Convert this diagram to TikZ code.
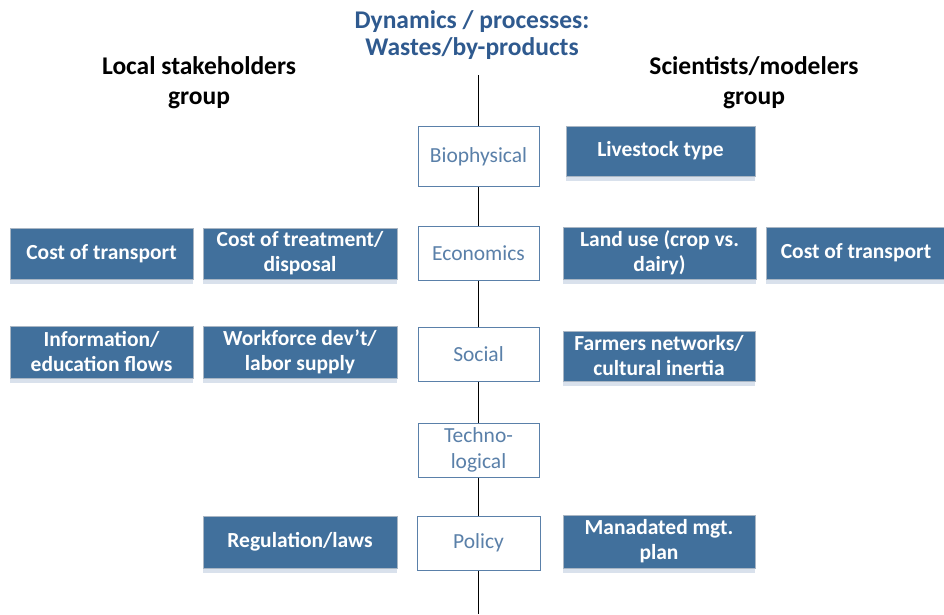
\documentclass[tikz,border=0pt]{standalone}
\usepackage{fontspec}
\setmainfont{Carlito}
\usepackage{tikz}
\usetikzlibrary{positioning, shapes, shadows, calc}
\definecolor{boxblue}{HTML}{41709C}
\definecolor{boxedge}{HTML}{A9B6C4}
\definecolor{shadowblue}{HTML}{D9E1EC}
\definecolor{dimblue}{HTML}{5A80A9}
\definecolor{titleblue}{HTML}{2F5A8F}
\tikzstyle{factor} = [rectangle, draw=boxedge, line width=0.8pt, fill=boxblue, text=white, font=\fontsize{21.5}{25}\selectfont\bfseries, align=center, inner sep=0pt, drop shadow={shadow xshift=0pt, shadow yshift=-5pt, fill=shadowblue, opacity=1}]
\tikzstyle{dimension} = [rectangle, draw=dimblue, line width=1pt, fill=white, text=dimblue, font=\fontsize{21.5}{26}\selectfont, align=center, inner sep=0pt, minimum width=121pt, minimum height=54pt]
\tikzstyle{heading} = [font=\fontsize{25.5}{30}\selectfont\bfseries, align=center]
\tikzstyle{line} = [-, line width=1pt]

\begin{document}
\begin{tikzpicture}[x=1pt, y=-1pt]
        \useasboundingbox (0,0) rectangle (944,614);

        % Headings
        \node[heading, text=titleblue, font=\fontsize{25.5}{27}\selectfont\bfseries] (title) at (472,35.5) {Dynamics / processes:\\Wastes/by-products};
        \node[heading] (local) at (199,82.5) {Local stakeholders\\group};
        \node[heading] (sci) at (754,82.5) {Scientists/modelers\\group};

        % Dimensions along the axis
        \node[dimension, minimum height=60pt] (bio) at (478.5,156.5) {Biophysical};
        \node[dimension] (econ) at (478.5,253) {Economics};
        \node[dimension] (social) at (478.5,354) {Social};
        \node[dimension] (techno) at (478.5,450) {Techno-\\logical};
        \node[dimension, minimum width=123pt] (policy) at (478.5,543) {Policy};

        % Axis
        \coordinate (axis_top) at (478.5,75);
        \coordinate (axis_bottom) at (478.5,614);
        \draw[line] (axis_top) -- (bio.north);
        \draw[line] (bio.south) -- (econ.north);
        \draw[line] (econ.south) -- (social.north);
        \draw[line] (social.south) -- (techno.north);
        \draw[line] (techno.south) -- (policy.north);
        \draw[line] (policy.south) -- (axis_bottom);

        % Local stakeholders side
        \node[factor, minimum width=183pt, minimum height=51pt] (cost_local) at (101.5,253.5) {Cost of transport};
        \node[factor, minimum width=194pt, minimum height=51pt] (treatment) at (300,253.5) {Cost of treatment/\\disposal};
        \node[factor, minimum width=183pt, minimum height=52pt] (info) at (101.5,352) {Information/\\education flows};
        \node[factor, minimum width=194pt, minimum height=52pt] (workforce) at (300,352) {Workforce dev’t/\\labor supply};
        \node[factor, minimum width=194pt, minimum height=52pt] (regulation) at (300,542) {Regulation/laws};

        % Scientists side
        \node[factor, minimum width=189pt, minimum height=50pt] (livestock) at (660.5,151) {Livestock type};
        \node[factor, minimum width=193pt, minimum height=52pt] (landuse) at (659.5,253) {Land use (crop vs.\\dairy)};
        \node[factor, minimum width=180pt, minimum height=52pt] (cost_sci) at (856,253) {Cost of transport};
        \node[factor, minimum width=192pt, minimum height=50pt] (farmers) at (659,356) {Farmers networks/\\cultural inertia};
        \node[factor, minimum width=192pt, minimum height=53pt] (mandated) at (659,541.5) {Manadated mgt.\\plan};
    \end{tikzpicture}
\end{document}
